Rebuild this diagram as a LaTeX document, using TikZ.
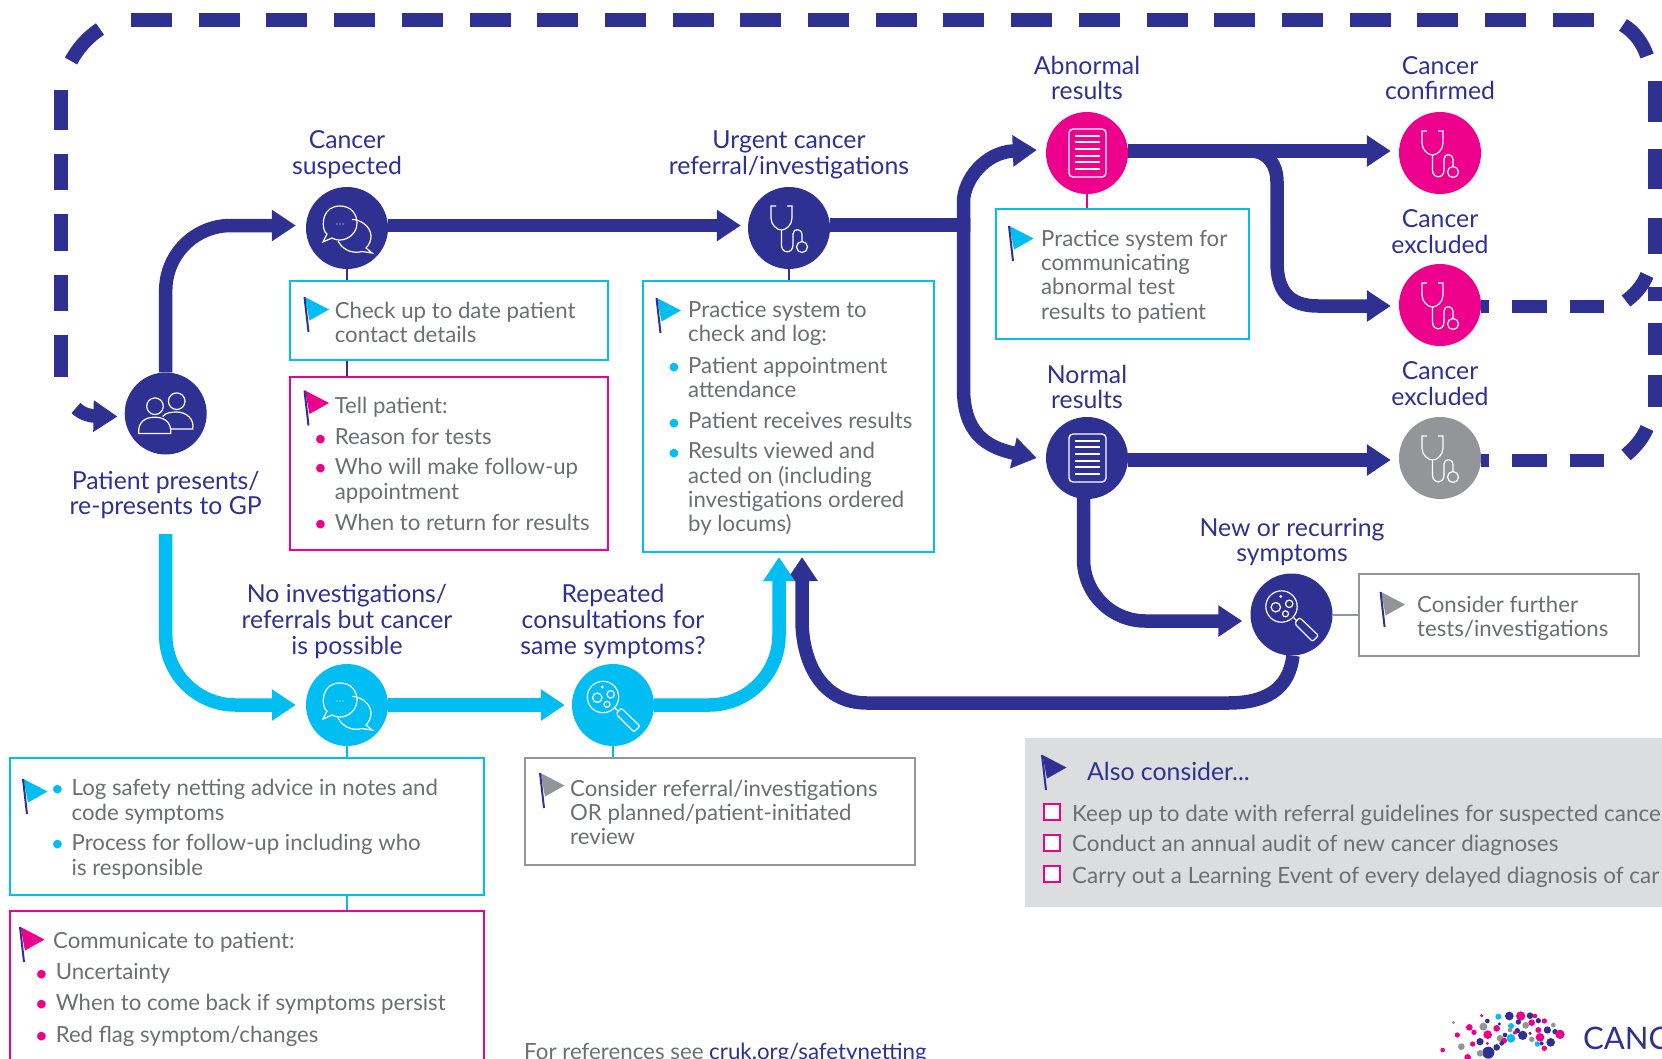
\documentclass[tikz,border=0pt]{standalone}
\usepackage{fontspec}
\setmainfont{Lato}
\usetikzlibrary{arrows.meta}
\definecolor{navy}{HTML}{2E3192}
\definecolor{skyc}{HTML}{00BDF2}
\definecolor{rosec}{HTML}{EC008C}
\definecolor{greyc}{HTML}{939598}
\definecolor{bodyc}{HTML}{6D6E71}
\definecolor{panelc}{HTML}{DCDDDE}
\tikzset{
  x=1pt,y=-1pt,
  circ/.style={circle,fill=#1,minimum size=82pt,inner sep=0pt},
  head/.style={text=navy,align=center,inner sep=0pt,font=\fontsize{24.8}{25.8}\selectfont},
  body/.style={text=bodyc,align=left,anchor=north west,inner sep=0pt,font=\fontsize{22.2}{24.2}\selectfont},
  bx/.style={draw=#1,line width=2.4pt,fill=white,inner sep=0pt,anchor=north west,xshift=-1.5pt,yshift=1.5pt},
  arr/.style={draw=#1,line width=13.5pt,-{Triangle[length=24pt,width=30pt]}},
  flow/.style={draw=#1,line width=13.5pt},
  dashline/.style={draw=navy,line width=14pt},
  thin link/.style={draw=#1,line width=2pt},
  icon/.style={draw=white,line width=1.2pt},
  pics/flagmark/.style={code={
    \fill[#1] (0.5,0) -- (24.5,12.5) -- (5,23.5) -- cycle;
    \draw[navy,line width=2pt] (0,0) -- (4,35);
  }},
  pics/chaticon/.style={code={
    \draw[icon] (5,-8.5) .. controls (12,-9) and (24,-2) .. (24,8) .. controls (24,13) and (22,17) .. (19,20) -- (25,25) -- (15,23.5) .. controls (8,25.5) and (-3,24) .. (-9,13);
    \draw[icon,fill=none] (-22,4) .. controls (-26,-4) and (-24,-22) .. (-7,-22) .. controls (4,-22) and (10,-14) .. (10,-5) .. controls (10,6) and (0,12) .. (-7,12) .. controls (-11,12) and (-13,11) .. (-15,10) -- (-24,14) -- (-20,6) -- cycle;
    \fill[white] (-10,-4) circle[radius=.7pt] (-7,-4) circle[radius=.7pt] (-4,-4) circle[radius=.7pt];
  }},
  pics/stethicon/.style={code={
    \draw[icon] (-13,-22) -- (-18,-22) -- (-18,-10) .. controls (-18,-3) and (-12,2) .. (-7.5,2) .. controls (-3,2) and (3,-3) .. (3,-10) -- (3,-22) -- (-2,-22);
    \draw[icon] (-7.5,2) -- (-7.5,17) .. controls (-7.5,26) and (4,26) .. (4,17) -- (4,6) .. controls (4,0) and (13,0) .. (13,7) -- (13,13.5);
    \draw[icon] (13,19) circle[radius=5.5pt];
  }},
  pics/docicon/.style={code={
    \draw[icon,line width=1.4pt,rounded corners=4pt] (-18,-24) rectangle (19,24);
    \foreach \ly in {-17,-10.7,-4,2.7,9.3,16}{\draw[draw=white,line width=1.8pt] (-12,\ly) -- (13,\ly);}
  }},
  pics/glassicon/.style={code={
    \draw[icon] (-10,-8) circle[radius=15.7pt];
    \draw[icon] (-15.7,-7.3) circle[radius=4.7pt];
    \draw[icon] (-2.3,-10.7) circle[radius=3.7pt];
    \draw[icon] (-6,-0.7) circle[radius=3pt];
    \fill[white] (-10.7,-18) circle[radius=1.6pt];
    \draw[icon] (2,3) -- (5,6);
    \draw[icon,rounded corners=2pt] (3,9) -- (8,3) -- (27,21) -- (21,27) -- cycle;
  }},
  pics/peopleicon/.style={code={
    \draw[icon] (-10.7,-7.3) circle[radius=8.3pt];
    \draw[icon] (11,-12.3) circle[radius=8.3pt];
    \draw[icon] (-27,20) .. controls (-28,8) and (-20,3.7) .. (-11,3.7) .. controls (-2,3.7) and (6,8) .. (5,20) -- cycle;
    \draw[icon] (-3,3) .. controls (0,-1) and (6,-1.5) .. (11,-1.5) .. controls (20,-1.5) and (29,5) .. (27,15.5) -- (5.5,15.5);
  }},
}
\newcommand{\bul}[1]{\llap{\textcolor{#1}{\raisebox{-1.5pt}{\fontsize{23}{23}\selectfont\textbullet}}\hspace{7.5pt}}}
\begin{document}
\begin{tikzpicture}
\useasboundingbox (0,0) rectangle (1662,1058);
\clip (0,0) rectangle (1662,1058);
% dashed outline
\draw[dashline,dash pattern=on 41pt off 26.7pt] (131,20) -- (1594,20);
\draw[dashline] (100,29) .. controls (88,37) and (78,48) .. (71,61);
\draw[dashline] (1623,25) .. controls (1635,32) and (1643,44) .. (1647,56);
\foreach \a/\b in {90/130,154/190,214/251,275/311,335/377}{\draw[dashline] (61,\a) -- (61,\b);}
\foreach \a/\b in {81/122,149/189,218/254,287/301,323/355,375/407}{\draw[dashline] (1655,\a) -- (1655,\b);}
\draw[dashline] (1647,275) .. controls (1642,287) and (1634,295) .. (1626,301);
\draw[dashline] (1647,428) .. controls (1642,440) and (1634,448) .. (1626,455);
% panel
\node[fill=panelc,inner sep=0pt,anchor=north west,minimum width=660pt,minimum height=169pt] (panel) at (1025,738) {};
% circles
\node[circ=navy] (pat) at (165.7,413.5) {};
\node[circ=navy] (cs) at (347,228) {};
\node[circ=navy] (urg) at (789,228) {};
\node[circ=rosec] (abn) at (1087,153) {};
\node[circ=rosec] (conf) at (1440,153) {};
\node[circ=rosec] (excA) at (1440,305) {};
\node[circ=navy] (norm) at (1087,458) {};
\node[circ=greyc] (excB) at (1440,458) {};
\node[circ=navy] (newr) at (1291.5,614.5) {};
\node[circ=skyc] (noinv) at (347,705) {};
\node[circ=skyc] (rep) at (613,705) {};
\pic at (pat) {peopleicon};
\pic at (cs) {chaticon};
\pic at (urg) {stethicon};
\pic at (abn) {docicon};
\pic at (conf) {stethicon};
\pic at (excA) {stethicon};
\pic at (norm) {docicon};
\pic at (excB) {stethicon};
\pic at (newr) {glassicon};
\pic at (noinv) {chaticon};
\pic at (rep) {glassicon};
% boxes
\node[bx=skyc,minimum width=318pt,minimum height=79pt] (boxA) at (290,281) {};
\node[bx=rosec,minimum width=318pt,minimum height=173pt] (boxB) at (290,377) {};
\node[bx=skyc,minimum width=291.5pt,minimum height=271pt] (boxC) at (643,281) {};
\node[bx=skyc,minimum width=253pt,minimum height=130pt] (boxD) at (996,209) {};
\node[bx=skyc,minimum width=474pt,minimum height=137pt] (boxE) at (10,758) {};
\node[bx=rosec,minimum width=474pt,minimum height=170pt] (boxF) at (10,911) {};
\node[bx=greyc,minimum width=390pt,minimum height=107pt] (boxG) at (525,758) {};
\node[bx=greyc,minimum width=280pt,minimum height=82pt] (boxH) at (1359,574) {};
% thin links
\draw[thin link=navy] (cs.south) -- (cs.south |- boxA.north);
\draw[thin link=navy] (cs.south |- boxA.south) -- (cs.south |- boxB.north);
\draw[thin link=navy] (urg.south) -- (urg.south |- boxC.north);
\draw[thin link=rosec] (abn.south) -- (abn.south |- boxD.north);
\draw[thin link=skyc] (noinv.south) -- (noinv.south |- boxE.north);
\draw[thin link=skyc] (noinv.south |- boxE.south) -- (noinv.south |- boxF.north);
\draw[thin link=skyc] (rep.south) -- (rep.south |- boxG.north);
\draw[thin link=greyc] (newr.east) -- (newr.east -| boxH.west);
% arrows
\coordinate (inStart) at (76,408);
\coordinate (skyStart) at (165.7,534);
\coordinate (jA) at (963.5,225);
\coordinate (brA) at (1250,151);
\draw[arr=navy] (inStart) .. controls (82,414) and (90,416) .. ([xshift=-7pt,yshift=-3pt]pat.west);
\draw[arr=navy,rounded corners=65pt,shorten >=10pt] (pat.north) |- ([yshift=2.5pt]cs.west);
\draw[arr=navy,shorten >=7pt] ([yshift=2.5pt]cs.east) -- ([yshift=2.5pt]urg.west);
\draw[flow=navy] ([yshift=3pt]urg.east) -- (jA);
\draw[arr=navy] (jA) ++(0,7) -- ++(0,-30) .. controls (963.5,180) and (985,152) .. ([xshift=-9pt,yshift=3pt]abn.west);
\draw[arr=navy] (jA) ++(0,-7) -- ++(0,170) .. controls (963.5,432) and (985,447) .. ([xshift=-9pt]norm.west);
\draw[arr=navy,shorten >=8pt] ([yshift=2pt]abn.east) -- ([yshift=2pt]conf.west);
\draw[arr=navy] (brA) .. controls (1268,151) and (1277,165) .. (1277,182) -- (1277,262) .. controls (1277,292) and (1290,306) .. (1318,306) -- ([xshift=-8pt,yshift=-1pt]excA.west);
\draw[arr=navy,shorten >=8pt] ([yshift=-2pt]norm.east) -- ([yshift=-2pt]excB.west);
\draw[arr=navy,rounded corners=62pt] (1083.5,495) |- ([xshift=-8pt,yshift=-6.5pt]newr.west);
\draw[arr=navy] (newr.-88) .. controls (1289,690) and (1265,703) .. (1228,703) -- (867,703) .. controls (820,703) and (802,660) .. (802,620) -- (802,557);
\draw[arr=skyc,rounded corners=70pt,shorten >=10pt] (skyStart) |- (noinv.west);
\draw[arr=skyc,shorten >=7pt] (noinv.east) -- (rep.west);
\draw[arr=skyc,rounded corners=70pt] (rep.east) -| (779,557);
% dashed exits
\draw[dashline,line width=13pt,dash pattern=on 8pt off 23pt on 35pt off 23pt on 34pt off 99pt] ([yshift=-1pt]excA.east) -- (1604,306);
\draw[dashline,line width=13pt,dash pattern=on 8pt off 23pt on 35pt off 23pt on 34pt off 99pt] ([yshift=-2pt]excB.east) -- (1604,460);
% flags
\pic at (304.5,297) {flagmark=skyc};
\pic at (304.5,390.5) {flagmark=rosec};
\pic at (656.5,298) {flagmark=skyc};
\pic at (1009,226) {flagmark=skyc};
\pic at (23,779) {flagmark=skyc};
\pic at (20,927) {flagmark=rosec};
\pic at (540,773) {flagmark=greyc};
\pic at (1380.6,592) {flagmark=greyc};
\pic at (1042,755) {flagmark=navy};
% headings
\node[head] (tCs) at (347,155) {Cancer\\suspected};
\node[head] (tUrg) at (789,154.5) {Urgent cancer\\referral/investigations};
\node[head] (tAbn) at (1087,78) {Abnormal\\results};
\node[head] (tConf) at (1440,78) {Cancer\\confirmed};
\node[head] (tExcA) at (1440,232) {Cancer\\excluded};
\node[head] (tNorm) at (1087,387) {Normal\\results};
\node[head] (tExcB) at (1440,384) {Cancer\\excluded};
\node[head] (tNew) at (1292,542) {New or recurring\\symptoms};
\node[head] (tPat) at (165.7,495) {Patient presents/\\re-presents to GP};
\node[head] (tNo) at (347,621.5) {No investigations/\\referrals but cancer\\is possible};
\node[head] (tRep) at (613,621.5) {Repeated\\consultations for\\same symptoms?};
% body text
\node[body] (tA) at (334.6,302) {Check up to date patient\\contact details};
\node[body] (tB) at (334.6,396.5) {Tell patient:\\[7.5pt]\bul{rosec}Reason for tests\\[5.5pt]\bul{rosec}Who will make follow-up\\[1pt]appointment\\[6.5pt]\bul{rosec}When to return for results};
\node[body] (tC) at (688,301) {Practice system to\\check and log:\\[7.5pt]\bul{skyc}Patient appointment\\attendance\\[7pt]\bul{skyc}Patient receives results\\[6pt]\bul{skyc}Results viewed and\\acted on (including\\investigations ordered\\by locums)};
\node[body] (tD) at (1041,230) {Practice system for\\communicating\\abnormal test\\results to patient};
\node[body] (tE) at (71.5,778.5) {\bul{skyc}Log safety netting advice in notes and\\[1pt]code symptoms\\[6pt]\bul{skyc}Process for follow-up including who\\[1pt]is responsible};
\node[body] (tF0) at (53,932) {Communicate to patient:};
\node[body] (tF) at (55.6,963.5) {\bul{rosec}Uncertainty\\[6pt]\bul{rosec}When to come back if symptoms persist\\[8pt]\bul{rosec}Red flag symptom/changes};
\node[body] (tG) at (570,779.5) {Consider referral/investigations\\OR planned/patient-initiated\\review};
\node[body] (tH) at (1417,596) {Consider further\\tests/investigations};
\node[head,anchor=west] (tAlso) at (1087,771) {Also consider...};
\foreach \n/\yy/\ty/\tx in {a/812/815.5/Keep up to date with referral guidelines for suspected cance,b/843/845/Conduct an annual audit of new cancer diagnoses,c/873.5/877/Carry out a Learning Event of every delayed diagnosis of car}{
  \node[draw=rosec,line width=2pt,fill=white,inner sep=0pt,minimum size=16pt] (chk\n) at (1051.5,\yy) {};
  \node[body,anchor=west,font=\fontsize{22.4}{24}\selectfont] (txt\n) at (1072,\ty) {\tx};
}
\node[body,anchor=west,font=\fontsize{22.3}{24}\selectfont] (refs) at (524,1053) {For references see \textcolor{navy}{cruk.org/safetynetting}};
% logo
\begin{scope}[shift={(1430,1000)}]
\foreach \zx/\zy/\zr/\zc in {38/150/7/rosec,82/105/8/rosec,70/68/5/greyc,118/82/10/rosec,132/97/8/rosec,155/47/5/rosec,94/140/10/greyc,128/132/8/rosec,113/172/10/rosec,150/125/11/navy,172/130/5/rosec,160/80/12/greyc,172/63/7/navy,205/50/9/skyc,238/48/13/navy,272/48/14/rosec,300/47/10/navy,315/48/7/rosec,173/104/13/rosec,200/85/10/rosec,208/72/5/navy,243/78/9/skyc,265/66/8/navy,305/68/10/rosec,325/62/8/navy,343/63/8/rosec,287/76/10/greyc,262/92/8/navy,240/90/7/greyc,225/105/7/navy,210/115/10/greyc,222/122/9/rosec,243/115/13/skyc,278/106/14/navy,305/118/8/greyc,330/112/13/rosec,325/90/9/rosec,352/90/11/navy,375/95/8/navy,390/103/14/rosec,370/75/7/greyc,362/127/13/navy,322/132/8/skyc,343/145/8/rosec,175/158/18/navy,200/142/10/navy,150/160/10/greyc,215/130/7/navy,335/130/6/navy,255/98/6/rosec,300/100/5/navy}{
  \pgfmathsetmacro{\pxx}{\zx/3}\pgfmathsetmacro{\pyy}{\zy/3}\pgfmathsetmacro{\prr}{\zr/3}
  \fill[\zc] (\pxx,\pyy) circle[radius=\prr pt];
}
\end{scope}
\node[head,anchor=west,font=\fontsize{31}{33}\selectfont] (logo) at (1583,1038) {CANC};
\end{tikzpicture}
\end{document}
